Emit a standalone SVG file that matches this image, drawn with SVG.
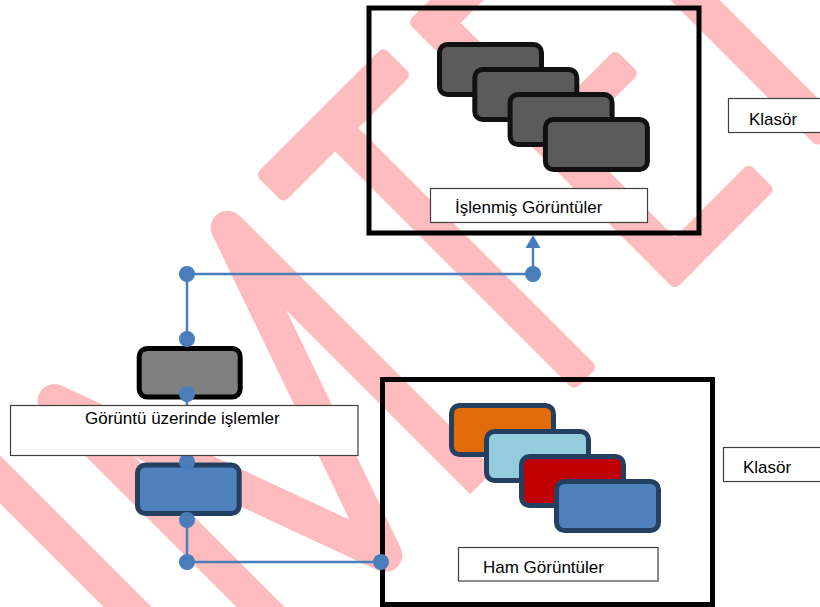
<svg xmlns="http://www.w3.org/2000/svg" width="820" height="607" viewBox="0 0 820 607">
<defs>
<style>
.wm{fill:#FFBCBF;}
.wml{fill:none;stroke:#FFBCBF;stroke-width:34;stroke-linejoin:round;stroke-linecap:butt;}
.cont{fill:none;stroke:#000;stroke-width:5;}
.dark{fill:#5B5B5B;stroke:#111;stroke-width:5;}
.graynode{fill:#808080;stroke:#000;stroke-width:5;}
.col{stroke:#243F60;stroke-width:5;}
.lbl{fill:#fff;stroke:#404040;stroke-width:1.2;}
.txt{font-family:"Liberation Sans",Arial,sans-serif;font-size:17px;fill:#000;}
.con{fill:none;stroke:#4A7EBB;stroke-width:2.5;}
.dot{fill:#4A7EBB;}
</style>
</defs>
<rect width="820" height="607" fill="#fff"/>
<g id="watermark" transform="rotate(-45)">
  <rect class="wm" x="-356" y="250" width="34" height="432" rx="6"/>
  <polyline class="wml" points="-245,682 -245,322 -120,665 0,322 0,682"/>
  <rect class="wm" x="57" y="304" width="181" height="40" rx="6"/>
  <rect class="wm" x="130" y="330" width="33" height="352" rx="6"/>
  <rect class="wm" x="272.5" y="304" width="37" height="378" rx="6"/>
  <rect class="wm" x="272.5" y="304" width="168" height="38" rx="6"/>
  <rect class="wm" x="272.5" y="470" width="127.5" height="34" rx="6"/>
  <rect class="wm" x="272.5" y="645" width="141.5" height="37" rx="6"/>
  <rect class="wm" x="474" y="200" width="35" height="482" rx="6"/>
</g>
<g id="processed-folder">
  <rect class="cont" x="369" y="8" width="330" height="225"/>
  <rect class="dark" x="439.5" y="44.5" width="102" height="50" rx="8"/>
  <rect class="dark" x="474.8" y="69.5" width="102" height="50" rx="8"/>
  <rect class="dark" x="510.1" y="94.5" width="102" height="50" rx="8"/>
  <rect class="dark" x="545.4" y="119.5" width="102" height="50" rx="8"/>
</g>
<g id="raw-folder">
  <rect class="cont" x="382.5" y="379.5" width="330" height="225"/>
  <rect class="col" fill="#E36C0A" x="451.5" y="405.5" width="102" height="49" rx="8"/>
  <rect class="col" fill="#93CDDD" x="486.5" y="431.5" width="102" height="49" rx="8"/>
  <rect class="col" fill="#C00000" x="521.5" y="456.5" width="102" height="49" rx="8"/>
  <rect class="col" fill="#4F81BD" x="556.5" y="481.5" width="102" height="49" rx="8"/>
</g>
<g id="process-node">
  <rect class="graynode" x="139.2" y="348.5" width="101" height="48.5" rx="8"/>
</g>
<g id="raw-node">
  <rect class="col" fill="#4F81BD" x="137.5" y="465" width="101.7" height="48.5" rx="8"/>
</g>
<g id="connectors">
  <polyline class="con" points="187,339 187,274 533,274 533,246"/>
  <polygon class="dot" points="533,235 525.5,248 540.5,248"/>
  <line class="con" x1="187" y1="394" x2="187" y2="462"/>
  <polyline class="con" points="187,520 187,562 381,562"/>
  <circle class="dot" cx="187" cy="274" r="8"/>
  <circle class="dot" cx="533" cy="274" r="8"/>
  <circle class="dot" cx="187" cy="339" r="8"/>
  <circle class="dot" cx="187" cy="394" r="8"/>
  <circle class="dot" cx="187" cy="462" r="8"/>
  <circle class="dot" cx="187" cy="520" r="8"/>
  <circle class="dot" cx="187" cy="562" r="8"/>
  <circle class="dot" cx="381" cy="562" r="8"/>
</g>
<g id="label-processed">
  <rect class="lbl" x="430.5" y="188.5" width="217" height="34"/>
  <text class="txt" x="455" y="213">İşlenmiş Görüntüler</text>
</g>
<g id="label-klasor-top">
  <rect class="lbl" x="728.5" y="98.5" width="95" height="34"/>
  <text class="txt" x="749" y="125">Klasör</text>
</g>
<g id="label-process">
  <rect class="lbl" x="10.5" y="405.5" width="347.5" height="50"/>
  <text class="txt" x="85" y="424">Görüntü üzerinde işlemler</text>
</g>
<g id="label-klasor-bottom">
  <rect class="lbl" x="723.5" y="447.5" width="100" height="34"/>
  <text class="txt" x="743" y="473">Klasör</text>
</g>
<g id="label-raw">
  <rect class="lbl" x="458.5" y="547.5" width="199.5" height="33.5"/>
  <text class="txt" x="483" y="573">Ham Görüntüler</text>
</g>
</svg>
